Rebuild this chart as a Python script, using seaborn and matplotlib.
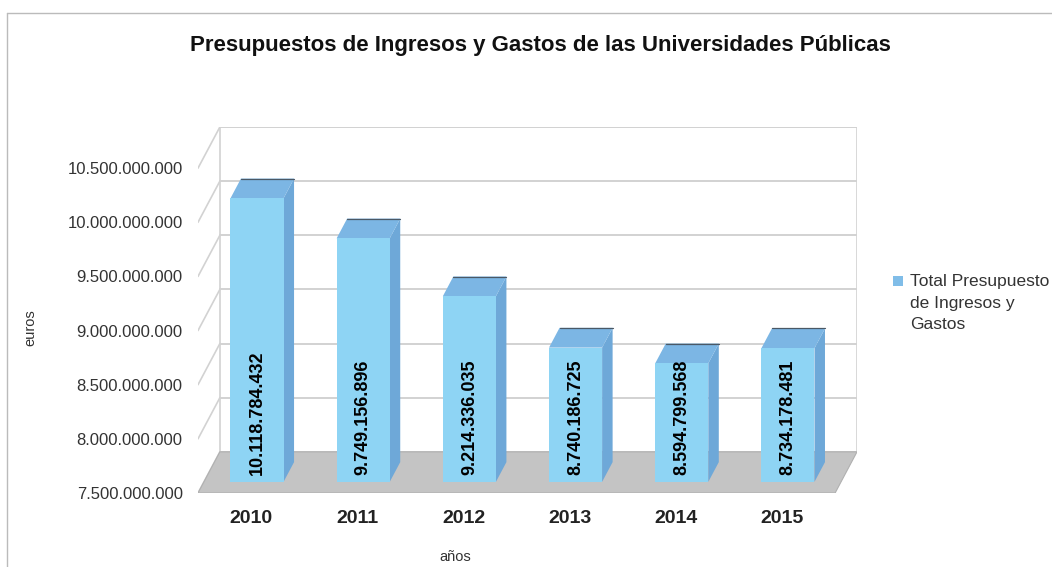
import numpy as np
import pandas as pd
import matplotlib
matplotlib.use("Agg")
import matplotlib.pyplot as plt
from matplotlib.patches import Polygon, Rectangle
from matplotlib.lines import Line2D
import seaborn as sns

years = ["2010", "2011", "2012", "2013", "2014", "2015"]
totals = [10118784432, 9749156896, 9214336035, 8740186725, 8594799568, 8734178481]
tick_values = [7.5e9, 8.0e9, 8.5e9, 9.0e9, 9.5e9, 10.0e9, 10.5e9]
series_name = "Total Presupuesto\nde Ingresos y\nGastos"


def fmt_es(v):
    # thousands separator with dots, spanish style
    return f"{int(round(v)):,}".replace(",", ".")


FRONT = "#8ed4f4"
TOP = "#7cb6e4"
SIDE = "#6ea8d8"
FLOOR = "#c4c4c4"
GRID = "#d2d2d2"

sns.set_theme(style="white")
plt.rcParams["font.family"] = ["Liberation Sans", "DejaVu Sans"]

df = pd.DataFrame({"year": years, "total": totals})

fig = plt.figure(figsize=(10.52, 5.67), dpi=100)
ax = fig.add_axes([198 / 1052, 1 - 493 / 567, (857 - 198) / 1052, (493 - 127) / 567])

ymin, ymax = tick_values[0], tick_values[-1]
dx, dy = 0.206, 0.38e9   # depth of the pseudo 3d box, in data units
f1, f2 = 0.27, 0.75      # bars sit in the middle of the depth
bar_w = 0.5

# back wall + grid
n = len(years)
x0, x1 = -0.5, n - 0.5
ax.add_patch(Polygon([(x0 + dx, ymin + dy), (x1 + dx, ymin + dy), (x1 + dx, ymax + dy), (x0 + dx, ymax + dy)],
                     closed=True, facecolor="white", edgecolor=GRID, lw=1.2, zorder=0))
for v in tick_values:
    ax.plot([x0 + dx, x1 + dx], [v + dy, v + dy], color=GRID, lw=1.4, zorder=0.5)
    ax.plot([x0, x0 + dx], [v, v + dy], color=GRID, lw=1.2, zorder=0.5)

# floor
ax.add_patch(Polygon([(x0, ymin), (x1, ymin), (x1 + dx, ymin + dy), (x0 + dx, ymin + dy)],
                     closed=True, facecolor=FLOOR, edgecolor="#b0b0b0", lw=0.8, zorder=1))

sns.barplot(data=df, x="year", y="total", color=FRONT, width=bar_w, saturation=1,
            edgecolor="none", ax=ax, zorder=3)

for p, v in zip(ax.patches[-n:], totals):
    bx = p.get_x() + f1 * dx
    by = ymin + f1 * dy
    p.set_x(bx)
    p.set_y(by)
    p.set_height(v - ymin)
    w = p.get_width()
    top = v + f1 * dy
    ddx, ddy = (f2 - f1) * dx, (f2 - f1) * dy
    # side face
    ax.add_patch(Polygon([(bx + w, by), (bx + w + ddx, by + ddy), (bx + w + ddx, top + ddy), (bx + w, top)],
                         closed=True, facecolor=SIDE, edgecolor="none", zorder=2.9))
    # top face
    ax.add_patch(Polygon([(bx, top), (bx + w, top), (bx + w + ddx, top + ddy), (bx + ddx, top + ddy)],
                         closed=True, facecolor=TOP, edgecolor="none", zorder=2.9))
    ax.plot([bx + ddx, bx + w + ddx], [top + ddy, top + ddy], color="#4a5866", lw=0.9, zorder=2.95)
    ax.text(bx + w / 2, by + 0.06e9, fmt_es(v), rotation=90, ha="center", va="bottom",
            fontsize=13, fontweight="bold", color="black", zorder=4)

ax.set_xlim(x0, x1 + dx)
ax.set_ylim(ymin, ymax + dy)
ax.set_yticks(tick_values)
ax.set_yticklabels([fmt_es(v) for v in tick_values], fontsize=12, color="#333333")
ax.set_xticks(range(n))
ax.set_xticklabels(years, fontsize=14, fontweight="bold", color="#222222")
ax.tick_params(axis="y", length=0, pad=11)
ax.tick_params(axis="x", length=0, pad=12)
for s in ax.spines.values():
    s.set_visible(False)
ax.set_xlabel("")
ax.set_ylabel("")

fig.text(540 / 1052, 1 - 45 / 567, "Presupuestos de Ingresos y Gastos de las Universidades Públicas",
         ha="center", va="center", fontsize=16, fontweight="bold", color="#111111")
fig.text(30 / 1052, 1 - 328 / 567, "euros", rotation=90, ha="center", va="center", fontsize=10.5, color="#333333")
fig.text(455 / 1052, 1 - 557 / 567, "años", ha="center", va="center", fontsize=10.5, color="#333333")

# legend: marker next to the first line of the label
fig.add_artist(Rectangle((893 / 1052, 1 - 286 / 567), 10 / 1052, 10 / 567,
                         transform=fig.transFigure, facecolor="#80bde8", edgecolor="none"))
fig.text(910 / 1052, 1 - 274 / 567, series_name, ha="left", va="top", fontsize=12.5,
         color="#333333", linespacing=1.55)

# outer frame lines (top and left)
fig.add_artist(Line2D([7 / 1052, 1], [1 - 13 / 567, 1 - 13 / 567], color="#bbbbbb", lw=1))
fig.add_artist(Line2D([7 / 1052, 7 / 1052], [0, 1 - 13 / 567], color="#bbbbbb", lw=1))

fig.savefig("out.png", dpi=100)
